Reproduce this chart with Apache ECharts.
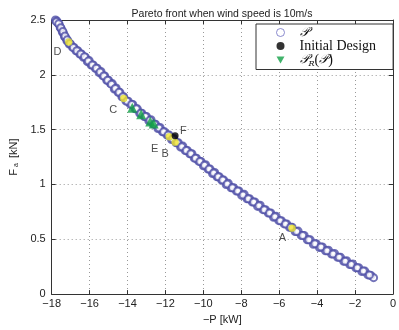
<!DOCTYPE html>
<html>
<head>
<meta charset="utf-8">
<title>Pareto front</title>
<script src="https://cdn.jsdelivr.net/npm/echarts@6/dist/echarts.min.js"></script>
<style>
  html, body { margin: 0; padding: 0; background: #fff; }
  #main_chart { width: 399px; height: 330px; }
</style>
</head>
<body>
<div id="main_chart"></div>
<script>
// Pareto front points [-P (kW), Fa (kN)] (two passes along the band)
var paretoFront = [
    [-17.80, 2.50], [-17.72, 2.49], [-17.66, 2.47], [-17.60, 2.46], [-17.55, 2.43], [-17.50, 2.42],
    [-17.44, 2.39], [-17.38, 2.38], [-17.33, 2.35], [-17.27, 2.34], [-17.20, 2.31], [-17.15, 2.31],
    [-17.08, 2.28], [-17.00, 2.28], [-16.90, 2.25], [-16.82, 2.25], [-16.72, 2.22], [-16.62, 2.22],
    [-16.52, 2.19], [-16.43, 2.19], [-16.33, 2.16], [-16.22, 2.16], [-16.12, 2.12], [-16.02, 2.13],
    [-15.92, 2.09], [-15.81, 2.09], [-15.70, 2.06], [-15.60, 2.06], [-15.50, 2.02], [-15.40, 2.03],
    [-15.30, 1.99], [-15.20, 1.99], [-15.10, 1.95], [-15.00, 1.95], [-14.90, 1.92], [-14.80, 1.92],
    [-14.70, 1.87], [-14.60, 1.88], [-14.50, 1.84], [-14.40, 1.84], [-14.30, 1.80], [-14.20, 1.80],
    [-14.08, 1.76], [-13.96, 1.76], [-13.85, 1.73], [-13.72, 1.73], [-13.60, 1.69], [-13.48, 1.69],
    [-13.36, 1.65], [-13.24, 1.65], [-13.12, 1.62], [-13.00, 1.62], [-12.88, 1.58], [-12.76, 1.59],
    [-12.64, 1.55], [-12.52, 1.55], [-12.40, 1.51], [-12.28, 1.52], [-12.16, 1.48], [-12.04, 1.48],
    [-11.92, 1.45], [-11.80, 1.45], [-11.68, 1.41], [-11.56, 1.42], [-11.44, 1.38], [-11.32, 1.38],
    [-11.20, 1.34], [-11.08, 1.35], [-10.96, 1.31], [-10.84, 1.31], [-10.72, 1.28], [-10.60, 1.28],
    [-10.48, 1.24], [-10.36, 1.24], [-10.24, 1.21], [-10.12, 1.21], [-10.00, 1.17], [-9.88, 1.18],
    [-9.76, 1.14], [-9.64, 1.14], [-9.52, 1.10], [-9.40, 1.11], [-9.28, 1.07], [-9.16, 1.07],
    [-9.04, 1.04], [-8.92, 1.04], [-8.80, 1.00], [-8.68, 1.01], [-8.54, 0.97], [-8.40, 0.97],
    [-8.26, 0.94], [-8.12, 0.94], [-7.98, 0.90], [-7.84, 0.91], [-7.70, 0.87], [-7.56, 0.87],
    [-7.42, 0.84], [-7.28, 0.84], [-7.14, 0.80], [-7.00, 0.81], [-6.86, 0.77], [-6.72, 0.77],
    [-6.58, 0.74], [-6.44, 0.74], [-6.30, 0.70], [-6.16, 0.71], [-6.02, 0.67], [-5.88, 0.67],
    [-5.74, 0.64], [-5.60, 0.64], [-5.46, 0.61], [-5.32, 0.61], [-5.16, 0.57], [-5.00, 0.575],
    [-4.84, 0.535], [-4.68, 0.535], [-4.52, 0.495], [-4.36, 0.495], [-4.20, 0.455], [-4.04, 0.46],
    [-3.88, 0.425], [-3.72, 0.43], [-3.56, 0.395], [-3.40, 0.40], [-3.24, 0.365], [-3.08, 0.37],
    [-2.92, 0.335], [-2.76, 0.335], [-2.60, 0.30], [-2.44, 0.305], [-2.28, 0.27], [-2.12, 0.275],
    [-1.96, 0.24], [-1.80, 0.24], [-1.64, 0.205], [-1.48, 0.21], [-1.32, 0.175], [-1.16, 0.17],
    [-1.02, 0.15]
];
var paretoFrontB = [
    [-17.76, 2.485], [-17.63, 2.465], [-17.52, 2.43], [-17.41, 2.395], [-17.30, 2.355], [-17.18, 2.32],
    [-17.04, 2.285], [-16.86, 2.25], [-16.67, 2.22], [-16.47, 2.19], [-16.27, 2.165], [-16.07, 2.125],
    [-15.86, 2.09], [-15.65, 2.06], [-15.45, 2.025], [-15.25, 1.99], [-15.05, 1.95], [-14.85, 1.915],
    [-14.65, 1.875], [-14.45, 1.84], [-14.25, 1.80], [-14.02, 1.76], [-13.78, 1.73], [-13.54, 1.69],
    [-13.30, 1.65], [-13.06, 1.62], [-12.82, 1.585], [-12.58, 1.55], [-12.34, 1.515], [-12.10, 1.48],
    [-11.86, 1.45], [-11.62, 1.415], [-11.38, 1.38], [-11.14, 1.345], [-10.90, 1.31], [-10.66, 1.28],
    [-10.42, 1.24], [-10.18, 1.21], [-9.94, 1.175], [-9.70, 1.14], [-9.46, 1.105], [-9.22, 1.07],
    [-8.98, 1.04], [-8.74, 1.005], [-8.47, 0.97], [-8.19, 0.94], [-7.91, 0.905], [-7.63, 0.87],
    [-7.35, 0.84], [-7.07, 0.805], [-6.79, 0.77], [-6.51, 0.74], [-6.23, 0.705], [-5.95, 0.67],
    [-5.67, 0.64], [-5.39, 0.61], [-5.08, 0.57], [-4.76, 0.535], [-4.44, 0.495], [-4.12, 0.46],
    [-3.80, 0.43], [-3.48, 0.395], [-3.16, 0.365], [-2.84, 0.335], [-2.52, 0.30], [-2.20, 0.27],
    [-1.88, 0.24], [-1.56, 0.21], [-1.24, 0.175]
];

// initial design
var initialDesign = [[-11.49, 1.445]];

// reduced set P_R(P)
var reducedSet = [[-13.75, 1.70], [-13.28, 1.64], [-12.80, 1.575], [-12.62, 1.555]];

// highlighted designs (yellow)
var pickedX = [-17.10, -14.20, -11.80, -11.49, -5.32];
var pickedY = [2.30, 1.785, 1.435, 1.384, 0.60];

// letters next to the highlighted designs
var letterNames = ['D', 'C', 'E', 'B', 'F', 'A'];
var letterX = [-17.70, -14.75, -12.57, -12.02, -11.05, -5.83];
var letterY = [2.205, 1.68, 1.32, 1.275, 1.49, 0.51];

var xTicks = [-18, -16, -14, -12, -10, -8, -6, -4, -2, 0];
var yTicks = [0, 0.5, 1, 1.5, 2, 2.5];

const myChart = echarts.init(document.getElementById('main_chart'));

var picked = pickedX.map(function (x, i) { return [x, pickedY[i]]; });
var letters = letterNames.map(function (n, i) {
    return { name: n, value: [letterX[i], letterY[i]] };
});

var gridLine = { show: true, lineStyle: { color: '#999', type: [1, 3], width: 1 } };
var boxLine = { show: true, onZero: false, lineStyle: { color: '#333', width: 1 } };
var legendNames = {
    'P': '{g|}{s|𝒫}',
    'Initial Design': '{g|}{t|Initial Design}',
    'PR': '{g|}{s|𝒫}{sub|R}{t|(}{s|𝒫}{t|)}'
};

var option = {
    animation: false,
    title: {
        text: 'Pareto front when wind speed is 10m/s',
        left: 217,
        textAlign: 'center',
        top: 4,
        textStyle: { fontSize: 10.5, fontWeight: 'normal', color: '#222', fontFamily: 'Liberation Sans' }
    },
    grid: { left: 40, right: 4, top: 20, bottom: 30 },
    legend: {
        data: [
            { name: 'P', icon: 'circle', itemStyle: { color: '#fff', borderColor: '#6e6ec0', borderWidth: 1 } },
            { name: 'Initial Design', icon: 'circle' },
            // the legend triangle points down like in the picture
            { name: 'PR', icon: 'path://M0,0L10,0L5,9Z' }
        ],
        orient: 'vertical',
        left: 256,
        top: 24,
        padding: [2, 17, 2, 20],
        itemGap: 0,
        itemWidth: 8,
        itemHeight: 8,
        borderColor: '#333',
        borderWidth: 1,
        backgroundColor: '#fff',
        formatter: function (name) { return legendNames[name]; },
        textStyle: {
            rich: {
                g: { width: 10 },
                s: { fontFamily: 'DejaVu Serif', fontSize: 13, fontStyle: 'italic', color: '#111', lineHeight: 14 },
                sub: { fontFamily: 'DejaVu Serif', fontSize: 8, fontStyle: 'italic', color: '#111', verticalAlign: 'bottom', padding: [7, 0, 0, 0] },
                t: { fontFamily: 'Liberation Serif', fontSize: 14, color: '#111', lineHeight: 14 }
            }
        }
    },
    xAxis: [{
        type: 'value',
        min: -18, max: 0, interval: 2,
        name: '\u2212P [kW]',
        nameLocation: 'middle',
        nameGap: 17,
        nameTextStyle: { fontSize: 11, color: '#222', fontFamily: 'Liberation Sans' },
        axisLine: boxLine,
        axisTick: { inside: true, length: 4, lineStyle: { color: '#333' } },
        axisLabel: { fontSize: 11, color: '#222', margin: 4, fontFamily: 'Liberation Sans',
            formatter: function (v) { return xTicks.indexOf(v) >= 0 ? String(v).replace('-', '\u2212') : ''; } },
        splitLine: gridLine
    }, {
        type: 'value', position: 'top',
        min: -18, max: 0, interval: 2,
        axisLine: boxLine,
        axisTick: { inside: true, length: 4, lineStyle: { color: '#333' } },
        axisLabel: { show: false },
        splitLine: { show: false }
    }],
    yAxis: [{
        type: 'value',
        min: 0, max: 2.5, interval: 0.5,
        name: 'F{sub|a} [kN]',
        nameLocation: 'middle',
        nameGap: 26,
        nameTextStyle: {
            fontSize: 11, color: '#222', fontFamily: 'Liberation Sans',
            rich: { sub: { fontSize: 7, color: '#222', verticalAlign: 'bottom', padding: [5, 2, 0, 2] } }
        },
        axisLine: boxLine,
        axisTick: { inside: true, length: 4, lineStyle: { color: '#333' } },
        axisLabel: { fontSize: 11, color: '#222', margin: 6, fontFamily: 'Liberation Sans',
            formatter: function (v) { return yTicks.indexOf(v) >= 0 ? String(v) : ''; } },
        splitLine: gridLine
    }, {
        type: 'value', position: 'right',
        min: 0, max: 2.5, interval: 0.5,
        axisLine: boxLine,
        axisTick: { inside: true, length: 4, lineStyle: { color: '#333' } },
        axisLabel: { show: false },
        splitLine: { show: false }
    }],
    series: [
        {
            name: 'P',
            type: 'scatter',
            data: paretoFront.concat(paretoFrontB),
            symbol: 'emptyCircle',
            symbolSize: 7,
            itemStyle: { color: '#5050a8', borderColor: '#5050a8', borderWidth: 1 },
            z: 2
        },
        {
            name: 'picked',
            type: 'scatter',
            data: picked,
            symbol: 'circle',
            symbolSize: 7,
            itemStyle: { color: '#f2e52e', borderColor: '#b8d040', borderWidth: 0.5 },
            z: 3
        },
        {
            name: 'PR',
            type: 'scatter',
            data: reducedSet,
            symbol: 'triangle',
            symbolSize: 10,
            itemStyle: { color: '#12a046' },
            z: 4
        },
        {
            name: 'Initial Design',
            type: 'scatter',
            data: initialDesign,
            symbol: 'circle',
            symbolSize: 7,
            itemStyle: { color: '#000' },
            z: 5
        },
        {
            name: 'letters',
            type: 'scatter',
            data: letters,
            symbolSize: 0,
            silent: true,
            label: {
                show: true,
                position: 'inside',
                formatter: '{b}',
                fontSize: 11,
                color: '#222',
                fontFamily: 'Liberation Sans'
            },
            z: 6
        }
    ]
};

myChart.setOption(option);
window.onresize = function () {
    myChart.resize();
};
</script>
</body>
</html>
